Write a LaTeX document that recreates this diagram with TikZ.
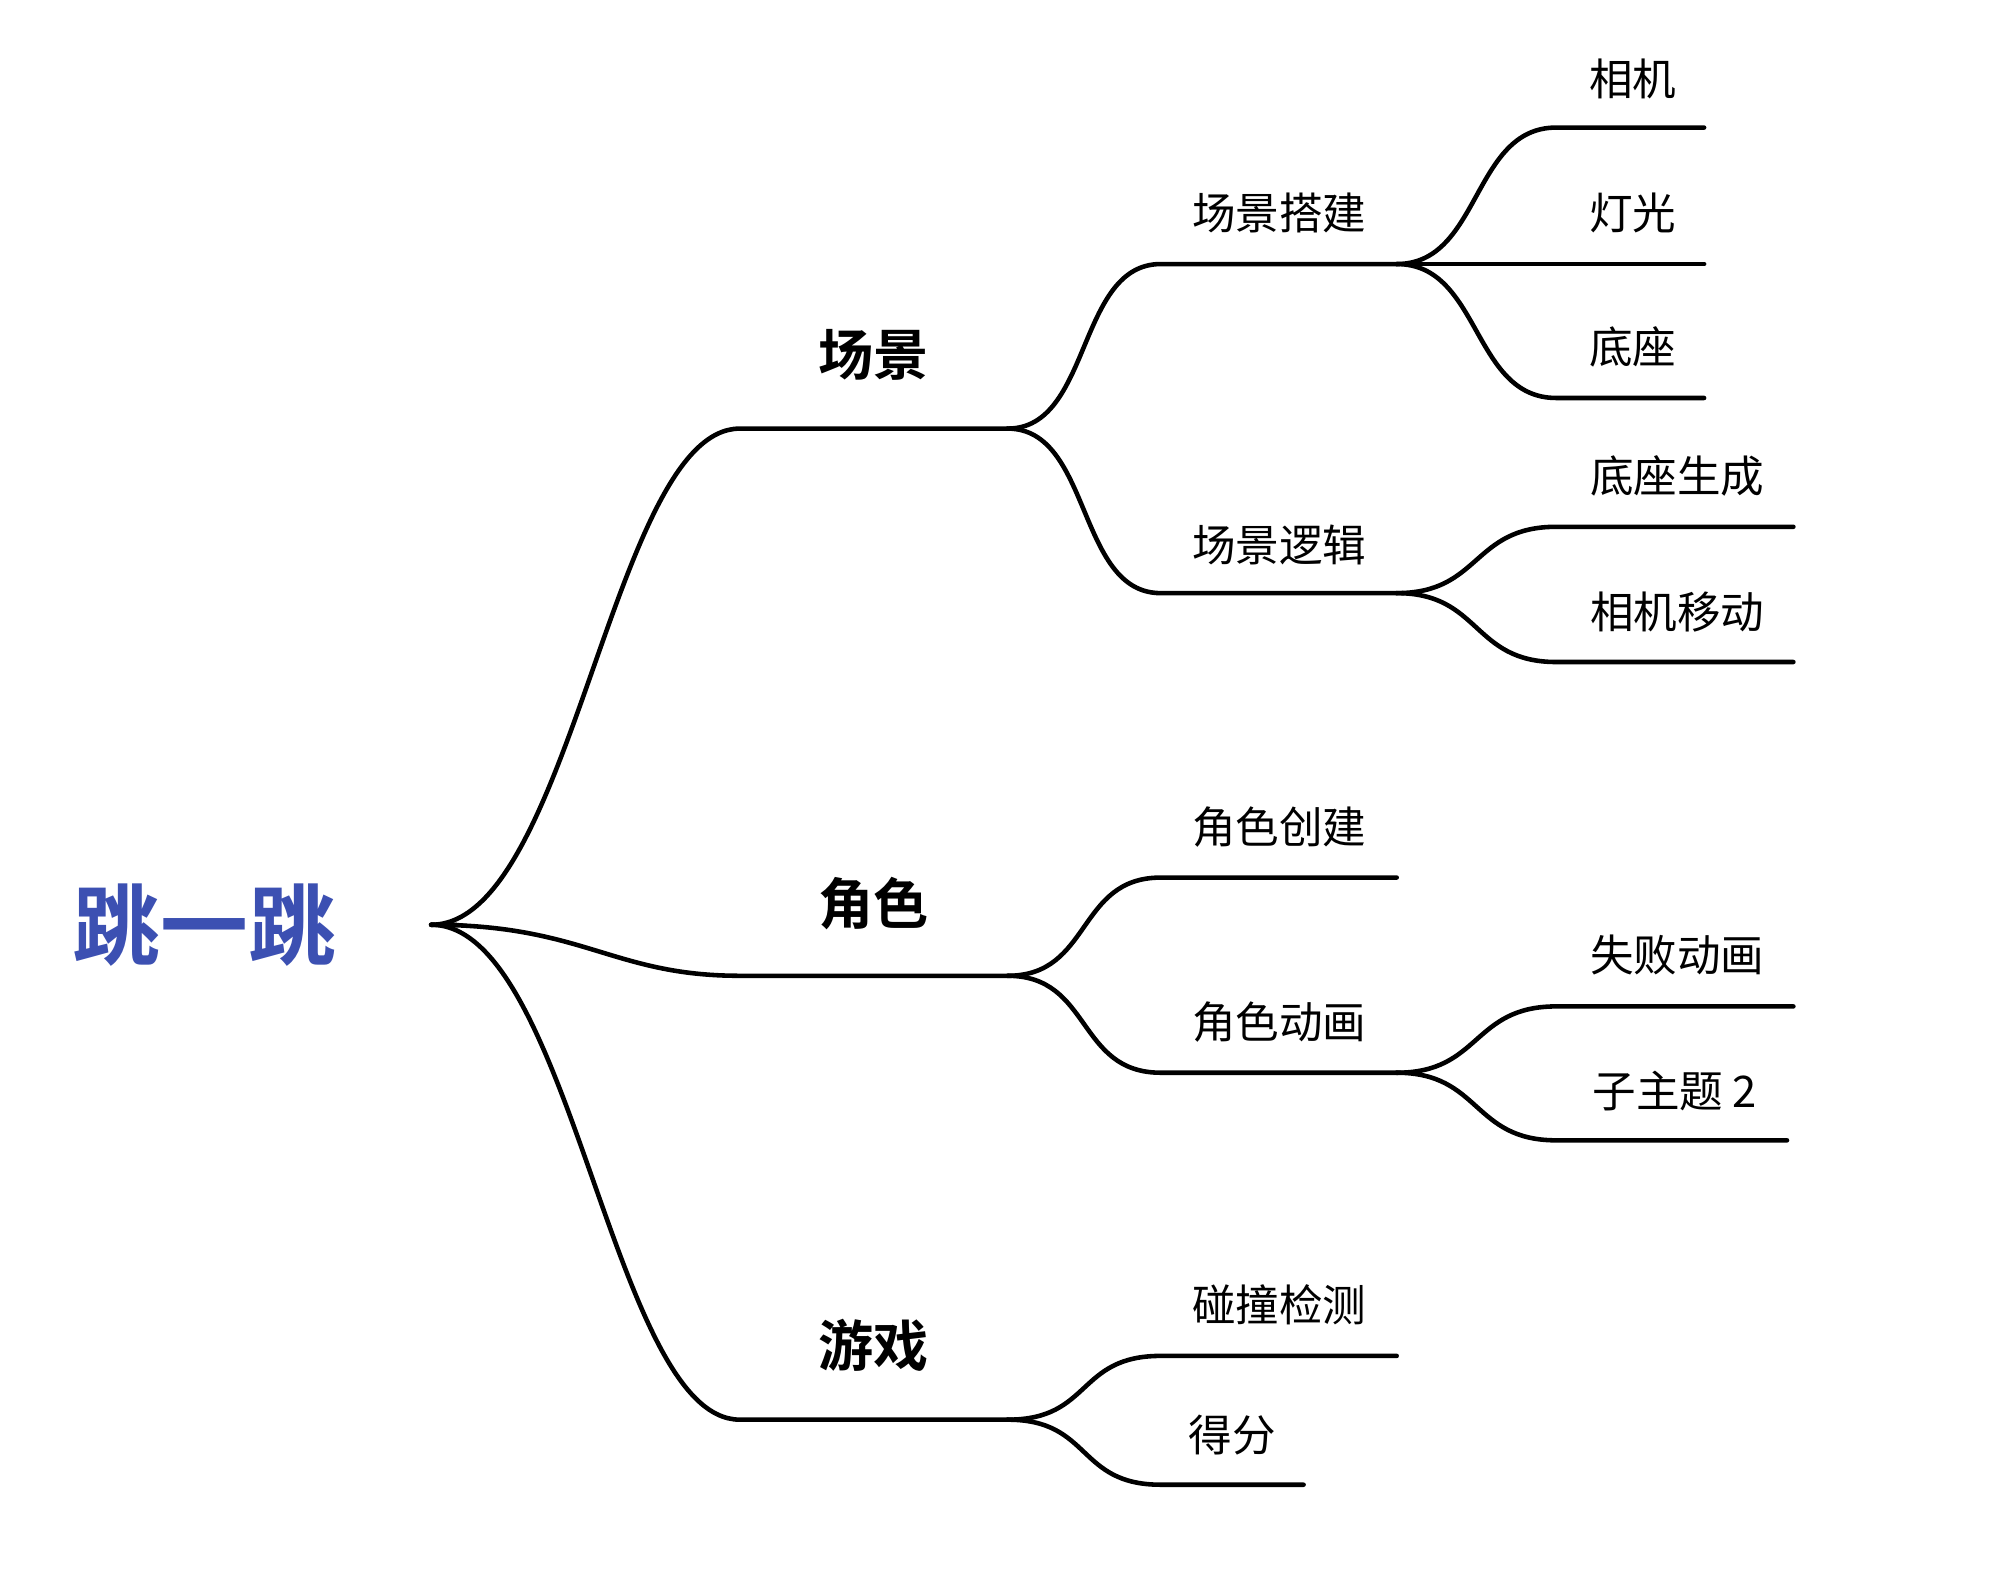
\documentclass[tikz,border=0pt]{standalone}
\usepackage{fontspec}
\newfontfamily\cjk{Noto Sans CJK SC}[BoldFont={Noto Sans CJK SC Bold}]
\definecolor{rootblue}{RGB}{60,80,178}
\tikzset{
  branch/.style={line width=1.3pt, line cap=round},
  roottopic/.style={font=\cjk\bfseries\fontsize{25}{30}\selectfont, text=rootblue, inner sep=0pt},
  maintopic/.style={font=\cjk\bfseries\fontsize{15.7}{19}\selectfont, inner sep=0pt},
  subtopic/.style={font=\cjk\fontsize{12.4}{15}\selectfont, inner sep=0pt}
}
\begin{document}
\begin{tikzpicture}[x=0.012755cm, y=-0.012755cm]
\useasboundingbox (0,0) rectangle (1568,1250);
\def\la{580}
\def\lb{790}
\def\ma{910}
\def\mb{1095}
\def\sa{1220}
\def\sb{1336}
\def\sc{1406}

\node[roottopic] (root) at (160,725) {跳一跳};
\coordinate (hub) at (338,725);
\fill (hub) .. controls (350,721) and (360,724) .. (372,725) .. controls (360,726) and (350,729) .. (hub);

\node[maintopic] (scene) at (685,278) {场景};
\coordinate (scene-a) at (\la,336);
\coordinate (scene-b) at (\lb,336);
\node[maintopic] (role) at (685,708) {角色};
\coordinate (role-a) at (\la,765);
\coordinate (role-b) at (\lb,765);
\node[maintopic] (game) at (685,1055) {游戏};
\coordinate (game-a) at (\la,1113);
\coordinate (game-b) at (\lb,1113);

\node[subtopic] (build) at (1003,167) {场景搭建};
\coordinate (build-a) at (\ma,207);
\coordinate (build-b) at (\mb,207);
\node[subtopic] (logic) at (1003,427) {场景逻辑};
\coordinate (logic-a) at (\ma,465);
\coordinate (logic-b) at (\mb,465);
\node[subtopic] (create) at (1003,648) {角色创建};
\coordinate (create-a) at (\ma,688);
\coordinate (create-b) at (\mb,688);
\node[subtopic] (anim) at (1003,801) {角色动画};
\coordinate (anim-a) at (\ma,841);
\coordinate (anim-b) at (\mb,841);
\node[subtopic] (hit) at (1003,1023) {碰撞检测};
\coordinate (hit-a) at (\ma,1063);
\coordinate (hit-b) at (\mb,1063);
\node[subtopic] (score) at (966,1125) {得分};
\coordinate (score-a) at (\ma,1164);
\coordinate (score-b) at (1022,1164);

\node[subtopic] (cam) at (1280,62) {相机};
\coordinate (cam-a) at (\sa,100);
\coordinate (cam-b) at (\sb,100);
\node[subtopic] (light) at (1280,167) {灯光};
\coordinate (light-b) at (\sb,207);
\node[subtopic] (base) at (1280,272) {底座};
\coordinate (base-a) at (\sa,312);
\coordinate (base-b) at (\sb,312);
\node[subtopic] (gen) at (1315,373) {底座生成};
\coordinate (gen-a) at (\sa,413);
\coordinate (gen-b) at (\sc,413);
\node[subtopic] (move) at (1315,480) {相机移动};
\coordinate (move-a) at (\sa,519);
\coordinate (move-b) at (\sc,519);
\node[subtopic] (fail) at (1315,749) {失败动画};
\coordinate (fail-a) at (\sa,789);
\coordinate (fail-b) at (\sc,789);
\node[subtopic] (sub2) at (1313,855) {子主题 2};
\coordinate (sub2-a) at (\sa,894);
\coordinate (sub2-b) at (1401,894);

\draw[branch] (hub) .. controls +(110,0) and +(-100,0) .. (scene-a) -- (scene-b);
\draw[branch] (hub) .. controls +(120,0) and +(-100,0) .. (role-a) -- (role-b);
\draw[branch] (hub) .. controls +(110,0) and +(-100,0) .. (game-a) -- (game-b);

\draw[branch] (scene-b) .. controls +(66,0) and +(-66,0) .. (build-a) -- (build-b);
\draw[branch] (scene-b) .. controls +(66,0) and +(-66,0) .. (logic-a) -- (logic-b);
\draw[branch] (role-b) .. controls +(66,0) and +(-66,0) .. (create-a) -- (create-b);
\draw[branch] (role-b) .. controls +(66,0) and +(-66,0) .. (anim-a) -- (anim-b);
\draw[branch] (game-b) .. controls +(66,0) and +(-66,0) .. (hit-a) -- (hit-b);
\draw[branch] (game-b) .. controls +(66,0) and +(-66,0) .. (score-a) -- (score-b);

\draw[branch] (build-b) .. controls +(66,0) and +(-66,0) .. (cam-a) -- (cam-b);
\draw[branch] (build-b) -- (light-b);
\draw[branch] (build-b) .. controls +(66,0) and +(-66,0) .. (base-a) -- (base-b);
\draw[branch] (logic-b) .. controls +(66,0) and +(-66,0) .. (gen-a) -- (gen-b);
\draw[branch] (logic-b) .. controls +(66,0) and +(-66,0) .. (move-a) -- (move-b);
\draw[branch] (anim-b) .. controls +(66,0) and +(-66,0) .. (fail-a) -- (fail-b);
\draw[branch] (anim-b) .. controls +(66,0) and +(-66,0) .. (sub2-a) -- (sub2-b);
\end{tikzpicture}
\end{document}
